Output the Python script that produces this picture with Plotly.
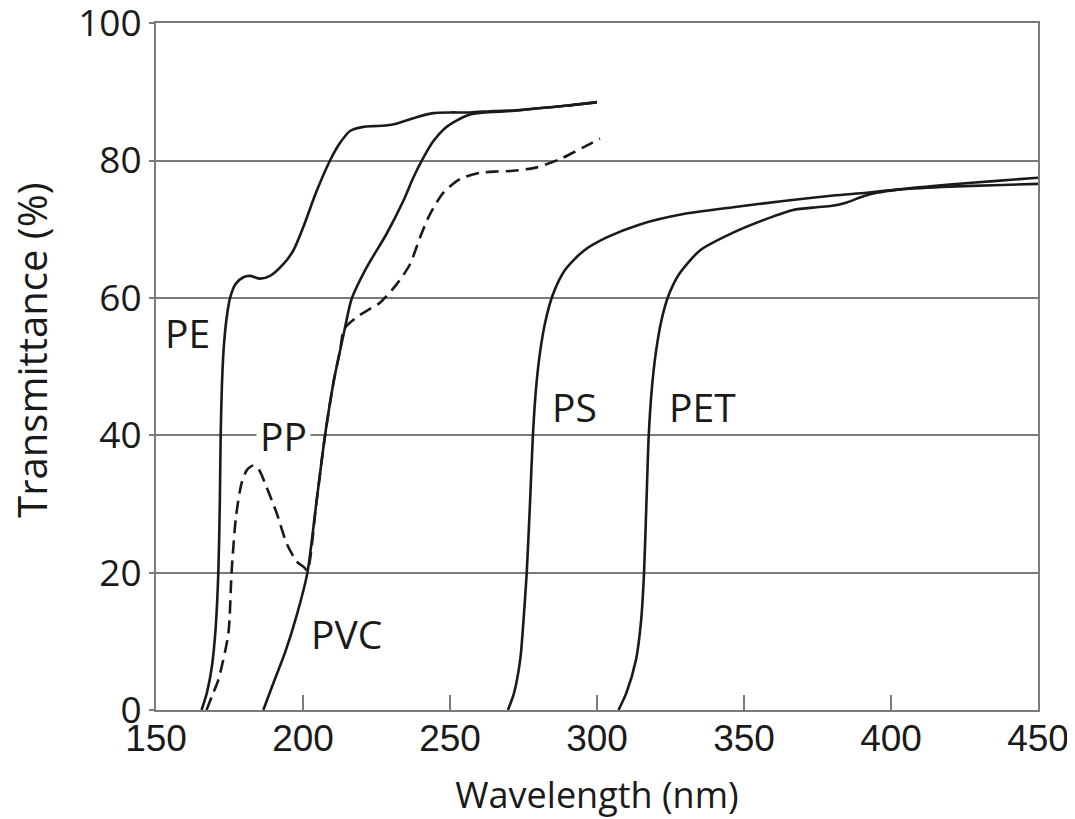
import plotly.graph_objects as go

# ---------------- data ----------------
pe_x = [165.5, 167.3, 169.0, 170.3, 171.2, 171.7, 172.0, 172.4, 173.0, 174.0, 175.2, 177.0, 179.7,
        182.0, 185.4, 188.8, 193.3, 196.7, 200.0, 204.5, 209.2, 212.5, 216.0, 220.5, 224.0, 228.0,
        232.0, 238.6, 244.3, 250.0, 256.8, 265.0, 272.7, 280.0, 290.0, 300.0]
pe_y = [0, 2.5, 6.3, 12.0, 20.0, 30.0, 40.0, 47.0, 52.5, 57.0, 60.0, 62.0, 63.0,
        63.2, 62.8, 63.2, 64.9, 66.9, 70.2, 75.4, 80.0, 82.5, 84.3, 84.9, 85.0, 85.1,
        85.4, 86.3, 86.9, 87.0, 87.0, 87.2, 87.3, 87.6, 88.0, 88.5]

pvc_x = [186.5, 190.0, 194.0, 198.0, 201.5, 204.5, 207.5, 210.5, 212.6, 214.3, 216.5, 221.6, 228.4,
         234.1, 237.5, 240.4, 244.3, 248.0, 252.2, 256.8, 262.0, 267.0, 272.7, 280.0, 290.0, 300.0]
pvc_y = [0, 4.0, 8.5, 14.0, 20.0, 30.0, 40.0, 48.0, 52.3, 55.7, 59.8, 64.4, 69.3,
         74.1, 77.5, 80.0, 82.8, 84.6, 85.8, 86.7, 87.0, 87.1, 87.3, 87.6, 88.0, 88.5]

pp_x = [167.2, 169.0, 171.2, 174.6, 175.7, 177.2, 179.1, 181.0, 183.1, 185.0, 187.1, 191.1, 194.5,
        197.9, 200.3, 201.5, 204.5, 207.5, 210.5, 212.6, 214.0, 218.3, 222.0, 226.2, 231.9, 236.4,
        239.8, 243.2, 247.7, 253.4, 260.2, 266.0, 271.5, 279.5, 287.4, 295.3, 301.0]
pp_y = [0, 2.0, 4.4, 11.1, 20.0, 28.1, 33.0, 35.0, 35.6, 35.0, 33.0, 28.6, 24.2,
        21.6, 20.8, 20.3, 30.0, 40.0, 48.0, 52.3, 55.5, 57.2, 58.2, 59.3, 62.0, 64.9,
        68.8, 72.2, 75.3, 77.3, 78.2, 78.4, 78.5, 79.0, 80.2, 81.9, 83.2]

ps_x = [269.7, 271.8, 273.9, 275.0, 276.1, 277.2, 278.2, 279.3, 280.6, 282.4, 285.0, 289.0, 295.3,
        303.3, 314.6, 329.4, 346.3, 363.4, 380.4, 391.7, 403.0, 420.0, 435.0, 450.0]
ps_y = [0, 2.5, 7.4, 13.0, 20.0, 30.0, 40.0, 47.0, 52.0, 56.5, 60.5, 64.0, 66.8,
        68.8, 70.7, 72.2, 73.2, 74.1, 74.9, 75.3, 75.8, 76.2, 76.4, 76.6]

pet_x = [307.3, 310.0, 313.3, 315.0, 316.0, 316.8, 317.6, 318.7, 320.0, 321.8, 324.3, 328.0, 335.0,
         346.3, 357.7, 366.7, 374.7, 380.0, 385.0, 390.6, 395.1, 403.0, 420.0, 435.0, 450.0]
pet_y = [0, 2.5, 7.4, 13.0, 20.0, 30.0, 40.0, 47.0, 52.0, 56.5, 60.3, 63.5, 66.9,
         69.5, 71.5, 72.8, 73.2, 73.4, 73.9, 74.8, 75.3, 75.8, 76.5, 77.0, 77.5]

label_text = ["PE", "PP", "PVC", "PS", "PET"]
label_x = [160.7, 193.5, 214.9, 292.2, 336.0]
label_y = [54.9, 40.0, 11.2, 44.2, 44.2]

x_ticks = [150, 200, 250, 300, 350, 400, 450]
y_ticks = [0, 20, 40, 60, 80, 100]

# ---------------- figure ----------------
LINE = "#1a1a1a"
GRID = "#7a7a7a"
TXT = "#1a1a1a"
fig = go.Figure()

def curve(xs, ys, dash="solid"):
    fig.add_trace(go.Scatter(
        x=xs, y=ys, mode="lines",
        line=dict(color=LINE, width=2.6, dash=dash, shape="spline", smoothing=0.7),
        showlegend=False, hoverinfo="skip"))

curve(pe_x, pe_y)
curve(pvc_x, pvc_y)
curve(pp_x, pp_y, dash="13px,7px")
curve(ps_x, ps_y)
curve(pet_x, pet_y)

for t, lx, ly in zip(label_text, label_x, label_y):
    fig.add_annotation(
        x=lx, y=ly, text=t, showarrow=False,
        font=dict(family="Open Sans", size=39, color=TXT),
        bgcolor="white" if t == "PP" else "rgba(0,0,0,0)",
        borderpad=3)

# y-axis title (placed as in the reference, slightly above the plot's centre)
fig.add_annotation(
    xref="paper", yref="paper", x=-0.142, y=0.524, xanchor="center", yanchor="middle",
    text="Transmittance (%)", textangle=-90, showarrow=False,
    font=dict(family="Open Sans", size=40, color=TXT))

fig.update_layout(
    width=1067, height=811,
    margin=dict(l=148, r=37, t=15, b=109, autoexpand=False),
    paper_bgcolor="white", plot_bgcolor="white",
    font=dict(family="Open Sans", color=TXT),
)

fig.update_xaxes(
    range=[150, 450], tickvals=x_ticks, ticktext=[str(v) for v in x_ticks],
    ticks="inside", ticklen=15, tickwidth=2, tickcolor=GRID,
    showline=True, linecolor=GRID, linewidth=2, mirror=True,
    showgrid=False, zeroline=False, ticklabeloverflow="allow", automargin=False,
    ticklabelstandoff=-5,
    tickfont=dict(family="Liberation Sans", size=37, color=TXT),
    title=dict(text="Wavelength (nm)", font=dict(family="Open Sans", size=36, color=TXT),
               standoff=27),
)
fig.update_yaxes(
    range=[0, 100.02], tickvals=y_ticks,
    ticks="outside", ticklen=5, tickwidth=2, tickcolor=GRID,
    showline=True, linecolor=GRID, linewidth=2, mirror=True,
    showgrid=True, gridcolor=GRID, gridwidth=2, zeroline=False,
    ticklabeloverflow="allow", ticklabelstandoff=0, automargin=False,
    tickfont=dict(family="Open Sans", size=37, color=TXT),
)

fig.write_html("out.html")
